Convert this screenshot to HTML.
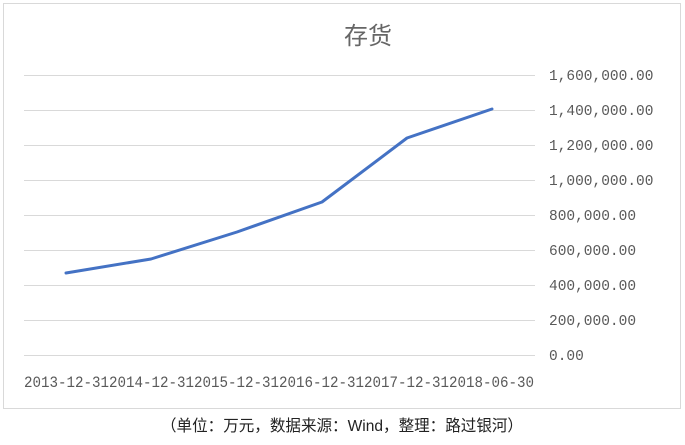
<!DOCTYPE html>
<html><head><meta charset="utf-8"><style>
body{margin:0;background:#fff;width:685px;height:440px;overflow:hidden}
</style></head><body>
<svg width="685" height="440" xmlns="http://www.w3.org/2000/svg">
<rect x="3.5" y="3.5" width="677" height="405" fill="#fff" stroke="#d9d9d9"/>
<text x="368" y="44" text-anchor="middle" font-family="Liberation Sans, Noto Sans CJK SC, sans-serif" font-size="24" fill="#666">存货</text>
<g stroke="#d9d9d9" stroke-width="1">
<line x1="24" x2="535" y1="75.5" y2="75.5"/><line x1="24" x2="535" y1="110.5" y2="110.5"/>
<line x1="24" x2="535" y1="145.5" y2="145.5"/><line x1="24" x2="535" y1="180.5" y2="180.5"/>
<line x1="24" x2="535" y1="215.5" y2="215.5"/><line x1="24" x2="535" y1="250.5" y2="250.5"/>
<line x1="24" x2="535" y1="285.5" y2="285.5"/><line x1="24" x2="535" y1="320.5" y2="320.5"/>
<line x1="24" x2="535" y1="355.5" y2="355.5"/>
</g>
<g font-family="Liberation Mono, monospace" font-size="14.5" fill="#595959">
<text x="549" y="80">1,600,000.00</text><text x="549" y="115">1,400,000.00</text>
<text x="549" y="150">1,200,000.00</text><text x="549" y="185">1,000,000.00</text>
<text x="549" y="220">800,000.00</text><text x="549" y="255">600,000.00</text>
<text x="549" y="290">400,000.00</text><text x="549" y="325">200,000.00</text>
<text x="549" y="360">0.00</text>
</g>
<text x="24" y="387" font-family="Liberation Mono, monospace" font-size="15.6" fill="#595959" textLength="510" lengthAdjust="spacingAndGlyphs">2013-12-312014-12-312015-12-312016-12-312017-12-312018-06-30</text>
<polyline points="66,273 151,259 237,232 322,202 407,138 492,109" fill="none" stroke="#4472c4" stroke-width="3" stroke-linejoin="round" stroke-linecap="round"/>
<text x="342" y="431" text-anchor="middle" font-family="Liberation Sans, Noto Sans CJK SC, sans-serif" font-size="16" fill="#222" textLength="362" lengthAdjust="spacingAndGlyphs">（单位：万元，数据来源：Wind，整理：路过银河）</text>
</svg>
</body></html>
